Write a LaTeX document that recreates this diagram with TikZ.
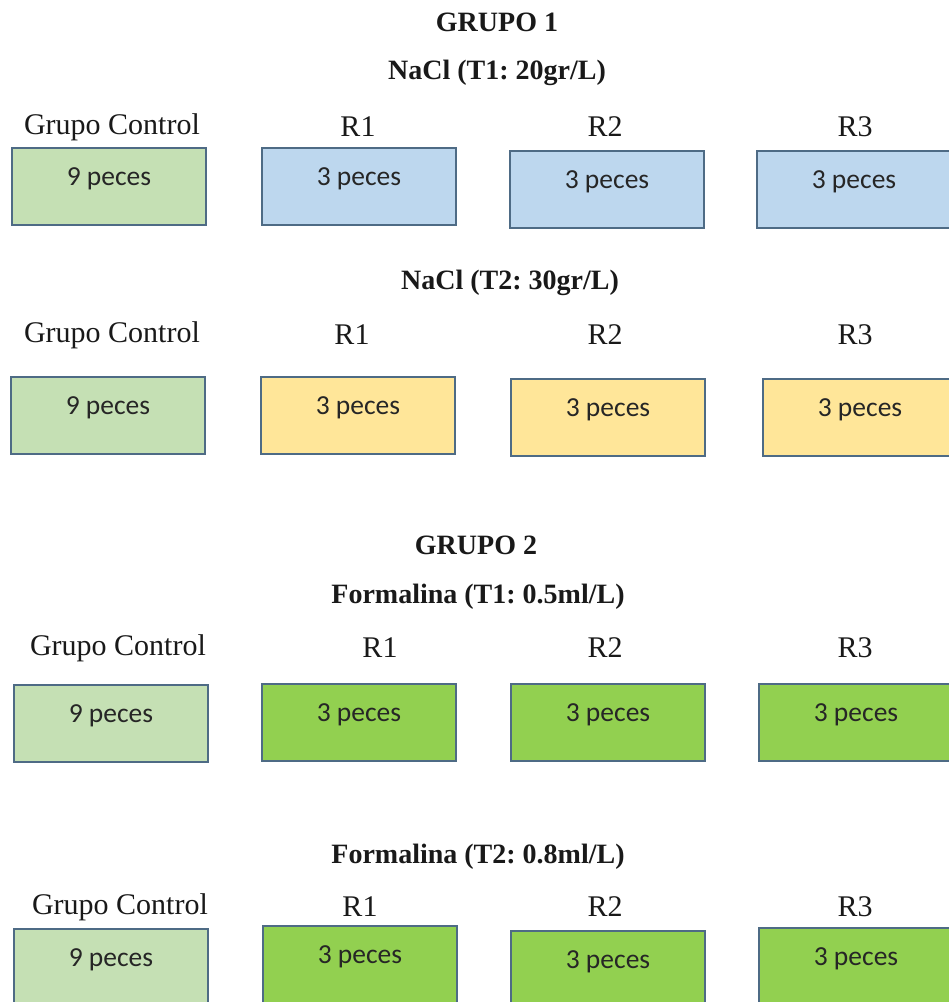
\documentclass[tikz,border=0pt]{standalone}
\usepackage{fontspec}
\setmainfont{Liberation Serif}
\newfontfamily\boxfont{Carlito}
\definecolor{ctrl}{HTML}{C5E0B4}
\definecolor{blu}{HTML}{BDD7EE}
\definecolor{yel}{HTML}{FFE699}
\definecolor{grn}{HTML}{92D050}
\definecolor{edge}{HTML}{4E6B85}
\tikzset{
  pbox/.style={draw=edge, line width=2pt, anchor=north west, minimum width=194pt, minimum height=77pt, inner sep=0pt,
    font=\boxfont\fontsize{27.5}{30}\selectfont, text=black!85, text height=24pt, text depth=26pt},
  lbl/.style={font=\fontsize{30}{33}\selectfont, text=black!90},
  ttl/.style={font=\frenchspacing\bfseries\fontsize{28}{32}\selectfont, text=black!90}
}
\begin{document}
\begin{tikzpicture}[x=1pt,y=-1pt]
\useasboundingbox (0,0) rectangle (949,1002);
\fill[white] (0,0) rectangle (949,1002);
\clip (0,0) rectangle (949,1002);
% titles
\node[ttl] (g1) at (497,22) {GRUPO 1};
\node[ttl] (t1) at (497,73) {NaCl (T1: 20gr/L)};
\node[ttl] (t2) at (510,283) {NaCl (T2: 30gr/L)};
\node[ttl] (g2) at (476,545) {GRUPO 2};
\node[ttl] (t3) at (478,597) {Formalina (T1: 0.5ml/L)};
\node[ttl] (t4) at (478,857) {Formalina (T2: 0.8ml/L)};
% row 1
\node[lbl] (l1c) at (112,127) {Grupo Control};
\node[lbl] (l11) at (358,127) {R1};
\node[lbl] (l12) at (605,127) {R2};
\node[lbl] (l13) at (855,127) {R3};
\node[pbox, fill=ctrl] (b1c) at (11,147) {9 peces};
\node[pbox, fill=blu] (b11) at (261,147) {3 peces};
\node[pbox, fill=blu] (b12) at (509,150) {3 peces};
\node[pbox, fill=blu] (b13) at (756,150) {3 peces};
% row 2
\node[lbl] (l2c) at (112,335) {Grupo Control};
\node[lbl] (l21) at (352,335) {R1};
\node[lbl] (l22) at (605,335) {R2};
\node[lbl] (l23) at (855,335) {R3};
\node[pbox, fill=ctrl] (b2c) at (10,376) {9 peces};
\node[pbox, fill=yel] (b21) at (260,376) {3 peces};
\node[pbox, fill=yel] (b22) at (510,378) {3 peces};
\node[pbox, fill=yel] (b23) at (762,378) {3 peces};
% row 3
\node[lbl] (l3c) at (118,648) {Grupo Control};
\node[lbl] (l31) at (380,648) {R1};
\node[lbl] (l32) at (605,648) {R2};
\node[lbl] (l33) at (855,648) {R3};
\node[pbox, fill=ctrl] (b3c) at (13,684) {9 peces};
\node[pbox, fill=grn] (b31) at (261,683) {3 peces};
\node[pbox, fill=grn] (b32) at (510,683) {3 peces};
\node[pbox, fill=grn] (b33) at (758,683) {3 peces};
% row 4
\node[lbl] (l4c) at (120,907) {Grupo Control};
\node[lbl] (l41) at (360,907) {R1};
\node[lbl] (l42) at (605,907) {R2};
\node[lbl] (l43) at (855,907) {R3};
\node[pbox, fill=ctrl] (b4c) at (13,928) {9 peces};
\node[pbox, fill=grn] (b41) at (262,925) {3 peces};
\node[pbox, fill=grn] (b42) at (510,930) {3 peces};
\node[pbox, fill=grn] (b43) at (758,927) {3 peces};
\end{tikzpicture}
\end{document}
